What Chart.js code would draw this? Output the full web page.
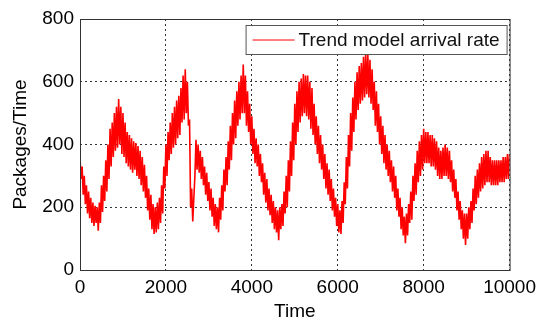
<!DOCTYPE html>
<html>
<head>
<meta charset="utf-8">
<script src="https://cdn.jsdelivr.net/npm/chart.js@4.4.0/dist/chart.umd.min.js"></script>
<style>
  html, body { margin: 0; padding: 0; background: #fff; }
</style>
</head>
<body>
<canvas id="arrivalChart" width="542" height="327"></canvas>
<script>
// Valores (amostra a cada 25 unidades de tempo, uma linha = 500)
const sampleStep = 25;
const arrivalRate = [
    360, 290, 330, 240, 300, 210, 270, 180, 250, 165, 230, 150, 215, 140, 205, 150, 200, 125, 215, 150,
    270, 185, 300, 220, 350, 250, 400, 290, 450, 330, 470, 360, 500, 380, 520, 390, 545, 400, 520, 370,
    500, 360, 470, 340, 440, 330, 430, 320, 420, 310, 410, 320, 405, 300, 395, 290, 380, 270, 360, 250,
    335, 230, 300, 190, 260, 160, 240, 130, 210, 115, 200, 120, 215, 130, 230, 150, 270, 180, 330, 260,
    400, 300, 440, 350, 470, 370, 500, 390, 520, 400, 540, 420, 555, 430, 580, 470, 620, 480, 640, 500,
    600, 460, 480, 200, 260, 155, 230, 300, 415, 320, 400, 310, 380, 290, 360, 270, 330, 240, 310, 220,
    280, 190, 260, 170, 230, 140, 210, 130, 200, 120, 230, 160, 270, 190, 320, 250, 360, 270, 410, 320,
    460, 350, 500, 400, 540, 420, 570, 460, 600, 480, 620, 500, 655, 500, 620, 460, 570, 440, 530, 400,
    490, 370, 450, 340, 420, 330, 400, 300, 370, 280, 340, 240, 310, 215, 290, 190, 260, 175, 240, 150,
    220, 130, 200, 120, 190,  95, 200, 130, 210, 140, 250, 180, 300, 200, 350, 250, 410, 300, 470, 350,
    530, 400, 570, 440, 600, 470, 610, 490, 625, 500, 620, 490, 620, 480, 600, 450, 580, 430, 530, 400,
    490, 370, 460, 340, 430, 320, 400, 290, 370, 260, 340, 240, 320, 220, 290, 190, 260, 170, 230, 140,
    210, 120, 190, 115, 220, 150, 280, 210, 360, 260, 430, 330, 500, 380, 550, 440, 600, 480, 630, 510,
    650, 530, 660, 540, 680, 550, 690, 560, 690, 550, 670, 530, 640, 510, 600, 460, 570, 440, 530, 400,
    490, 370, 460, 340, 430, 320, 400, 300, 380, 280, 350, 250, 330, 230, 300, 190, 260, 170, 230, 130,
    200, 110, 170,  85, 180, 110, 210, 150, 250, 160, 300, 220, 340, 240, 380, 280, 410, 300, 430, 320,
    450, 340, 440, 340, 440, 340, 430, 330, 430, 330, 420, 320, 410, 300, 390, 290, 380, 290, 390, 300,
    400, 300, 390, 290, 380, 280, 350, 250, 320, 230, 290, 190, 250, 160, 220, 130, 190, 100, 180,  80,
    180, 100, 200, 130, 220, 150, 260, 190, 300, 210, 320, 230, 340, 250, 360, 260, 370, 270, 380, 280,
    380, 280, 360, 270, 350, 270, 350, 270, 350, 270, 350, 280, 350, 280, 360, 280, 360, 290, 370, 290,
    370
];
const times = arrivalRate.map((_, i) => i * sampleStep);

const xTicks = [0, 2000, 4000, 6000, 8000, 10000];
const yTicks = [0, 200, 400, 600, 800];

const FONT = "'Liberation Sans', Arial, sans-serif";

// Moldura completa à volta da área do gráfico + legenda em caixa
const frameAndLegend = {
    id: "frameAndLegend",
    afterDatasetsDraw(chart) {
        const { ctx, chartArea } = chart;
        ctx.save();
        ctx.strokeStyle = "#333";
        ctx.lineWidth = 1;
        ctx.strokeRect(chartArea.left + 0.5, chartArea.top + 0.5,
            chartArea.right - chartArea.left, chartArea.bottom - chartArea.top);

        const ds = chart.data.datasets[0];
        ctx.font = "19px " + FONT;
        const textW = ctx.measureText(ds.label).width;
        const boxW = Math.round(textW + 60), boxH = 29;
        const bx = chartArea.right - 3 - boxW, by = chartArea.top + 6;
        ctx.fillStyle = "#fff";
        ctx.fillRect(bx, by, boxW, boxH);
        ctx.strokeStyle = "#555";
        ctx.strokeRect(bx + 0.5, by + 0.5, boxW, boxH);

        ctx.strokeStyle = ds.borderColor;
        ctx.lineWidth = 1;
        ctx.beginPath();
        ctx.moveTo(bx + 7, by + boxH / 2 + 0.5);
        ctx.lineTo(bx + 49, by + boxH / 2 + 0.5);
        ctx.stroke();

        ctx.fillStyle = "#111";
        ctx.textBaseline = "middle";
        ctx.fillText(ds.label, bx + 53, by + boxH / 2 + 1);
        ctx.restore();
    }
};

new Chart(document.getElementById("arrivalChart"), {
    type: "line",
    data: {
        labels: times,
        datasets: [{
            label: "Trend model arrival rate",
            data: times.map((t, i) => ({ x: t, y: arrivalRate[i] })),
            borderColor: "#ff0000",
            borderWidth: 1.6,
            pointRadius: 0,
            tension: 0,
            fill: false
        }]
    },
    options: {
        responsive: false,
        animation: false,
        layout: { padding: { left: 0, right: 29, top: 19, bottom: 0 } },
        plugins: { legend: { display: false }, tooltip: { enabled: false } },
        scales: {
            x: {
                type: "linear",
                min: 0, max: 10000,
                afterFit(scale) { scale.height = 57; },
                afterBuildTicks(scale) { scale.ticks = xTicks.map(v => ({ value: v })); },
                ticks: { color: "#000", font: { family: FONT, size: 19 }, padding: 6,
                         maxRotation: 0, callback: v => String(v) },
                grid: { color: "#000", lineWidth: 0.8, drawTicks: false },
                border: { display: false, dash: [2, 3] },
                title: { display: true, text: "Time", color: "#000",
                         font: { family: FONT, size: 19 }, padding: { top: 0, bottom: 4 } }
            },
            y: {
                min: 0, max: 800,
                afterFit(scale) { scale.width = 80; },
                afterBuildTicks(scale) { scale.ticks = yTicks.map(v => ({ value: v })); },
                ticks: { color: "#000", font: { family: FONT, size: 19 }, padding: 6,
                         callback: v => String(v) },
                grid: { color: "#000", lineWidth: 0.8, drawTicks: false },
                border: { display: false, dash: [2, 3] },
                title: { display: true, text: "Packages/Time", color: "#000",
                         font: { family: FONT, size: 19 }, padding: { top: 9, bottom: 0 } }
            }
        }
    },
    plugins: [frameAndLegend]
});
</script>
</body>
</html>
